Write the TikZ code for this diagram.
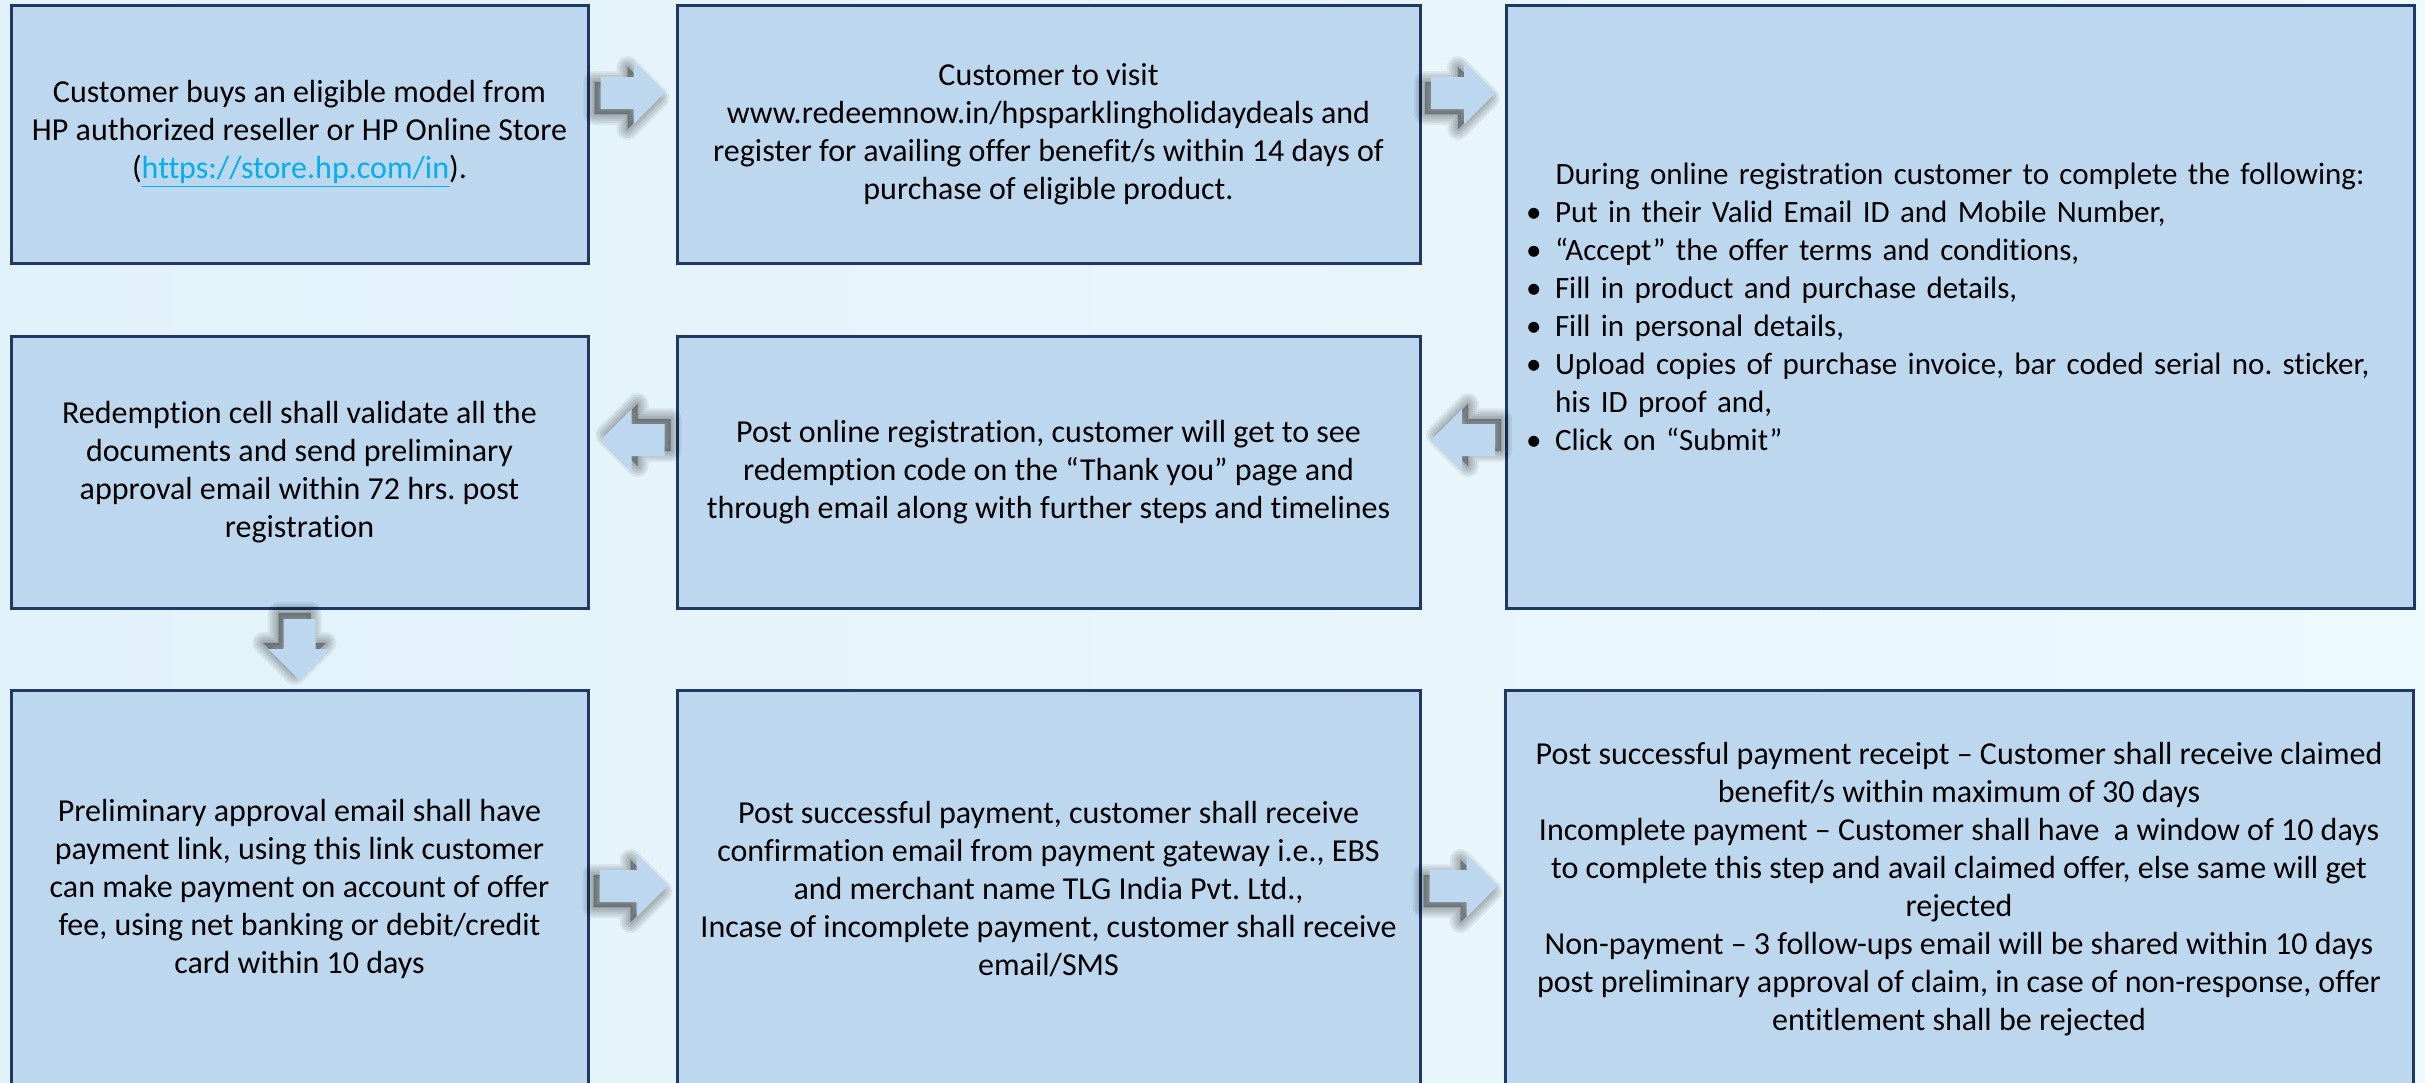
\documentclass[tikz,border=0pt]{standalone}
\usepackage{fontspec}
\setmainfont{Carlito}[Ligatures=NoCommon]
\usetikzlibrary{calc}
\frenchspacing
\definecolor{bgA}{RGB}{226,242,250}
\definecolor{bgB}{RGB}{236,249,254}
\definecolor{boxfill}{RGB}{189,215,238}
\definecolor{boxline}{RGB}{31,56,100}
\definecolor{linkblue}{RGB}{0,176,240}
\tikzset{
  box/.style={draw=boxline, line width=1.5pt, fill=boxfill, align=center, inner sep=0pt,
              font=\fontsize{16pt}{19pt}\selectfont\frenchspacing},
  blockarrow/.pic={
     \foreach \w in {11pt,9pt,7pt,5pt,3pt,1pt}
       \filldraw[black, opacity=0.06, line width=\w, line join=round, shift={(-6,5)}]
         (0,-16) -- ({#1-31},-16) -- ({#1-31},-31) -- (#1,0) -- ({#1-31},31) -- ({#1-31},16) -- (0,16) -- cycle;
     \fill[boxfill]
         (0,-16) -- ({#1-31},-16) -- ({#1-31},-31) -- (#1,0) -- ({#1-31},31) -- ({#1-31},16) -- (0,16) -- cycle;
     \coordinate (-tail) at (0,0);
     \coordinate (-tip) at (#1,0);
  },
}
\newcommand\bul{\makebox[14.5pt][l]{•}}
\begin{document}
\begin{tikzpicture}[x=0.5pt,y=-0.5pt]
\useasboundingbox (0,0) rectangle (2425,1082);
\shade[left color=bgA, right color=bgB] (0,0) rectangle (2425,1082);

% boxes
\node[box, minimum width=288.5pt, minimum height=129pt] (b1) at (299.5,134)
  {Customer buys an eligible model from\\
   HP authorized reseller or HP Online Store\\
   (\textcolor{linkblue}{\underline{https://store.hp.com/in}}).};
\node[box, minimum width=371.5pt, minimum height=129pt] (b2) at (1048.5,134)
  {Customer to visit\\
   www.redeemnow.in/hpsparklingholidaydeals and\\
   register for availing offer benefit/s within 14 days of\\
   purchase of eligible product.};
\node[box, minimum width=454pt, minimum height=301.5pt, text width=434pt, align=left,
      font=\fontsize{15.5pt}{19pt}\selectfont\frenchspacing] (b3) at (1960,306.5)
  {\makebox[434pt][c]{During online registration customer to complete the following:}\\
   \bul Put in their Valid Email ID and Mobile Number,\\
   \bul “Accept” the offer terms and conditions,\\
   \bul Fill in product and purchase details,\\
   \bul Fill in personal details,\\
   \bul Upload copies of purchase invoice, bar coded serial no. sticker,\\
   \hspace*{14.5pt}his ID proof and,\\
   \bul Click on “Submit”};
\node[box, minimum width=288.5pt, minimum height=136pt] (b4) at (299.5,472)
  {Redemption cell shall validate all the\\
   documents and send preliminary\\
   approval email within 72 hrs. post\\
   registration};
\node[box, minimum width=371.5pt, minimum height=136pt] (b5) at (1048.5,472)
  {Post online registration, customer will get to see\\
   redemption code on the “Thank you” page and\\
   through email along with further steps and timelines};
\node[box, minimum width=288.5pt, minimum height=199pt] (b6) at (299.5,889)
  {Preliminary approval email shall have\\
   payment link, using this link customer\\
   can make payment on account of offer\\
   fee, using net banking or debit/credit\\
   card within 10 days};
\node[box, minimum width=371.5pt, minimum height=199pt] (b7) at (1048.5,889)
  {Post successful payment, customer shall receive\\
   confirmation email from payment gateway i.e., EBS\\
   and merchant name TLG India Pvt. Ltd.,\\
   Incase of incomplete payment, customer shall receive\\
   email/SMS};
\node[box, minimum width=454pt, minimum height=199pt] (b8) at (1959,889)
  {Post successful payment receipt – Customer shall receive claimed\\
   benefit/s within maximum of 30 days\\
   Incomplete payment – Customer shall have\ \ a window of 10 days\\
   to complete this step and avail claimed offer, else same will get\\
   rejected\\
   Non-payment – 3 follow-ups email will be shared within 10 days\\
   post preliminary approval of claim, in case of non-response, offer\\
   entitlement shall be rejected};

% block arrows (connectors between boxes)
\pic (a1) at ($(b1.east)!0.5!(b2.west)+(-32,-41)$) {blockarrow=64};
\pic (a2) at ($(b2.east)!0.5!(b3.west |- b2.east)+(-32,-41)$) {blockarrow=64};
\pic[rotate=180] (a3) at ($(b5.east)!0.5!(b3.west |- b5.east)+(32,-32)$) {blockarrow=64};
\pic[rotate=180] (a4) at ($(b4.east)!0.5!(b5.west)+(32,-32)$) {blockarrow=64};
\pic[rotate=-90] (a5) at ($(b4.south)!0.5!(b6.north)+(0,-30)$) {blockarrow=61};
\pic (a6) at ($(b6.east)!0.5!(b7.west)+(-33,-3)$) {blockarrow=68};
\pic (a7) at ($(b7.east)!0.5!(b8.west)+(-33,-3)$) {blockarrow=68};
\end{tikzpicture}
\end{document}
